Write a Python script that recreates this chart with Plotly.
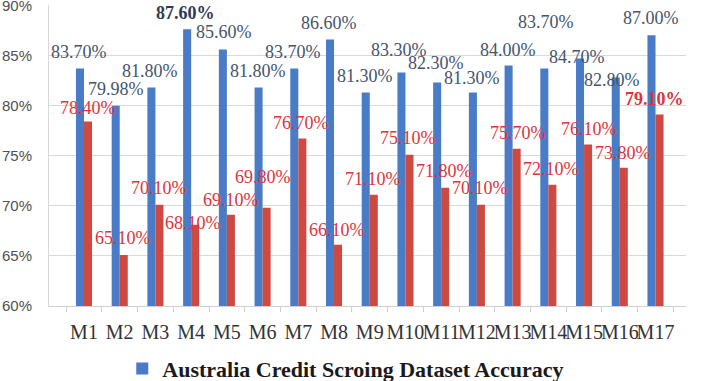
import plotly.graph_objects as go

categories = ["M1", "M2", "M3", "M4", "M5", "M6", "M7", "M8", "M9",
              "M10", "M11", "M12", "M13", "M14", "M15", "M16", "M17"]
accuracy_blue = [83.70, 79.98, 81.80, 87.60, 85.60, 81.80, 83.70, 86.60, 81.30,
                 83.30, 82.30, 81.30, 84.00, 83.70, 84.70, 82.80, 87.00]
accuracy_red = [78.40, 65.10, 70.10, 68.10, 69.10, 69.80, 76.70, 66.10, 71.10,
                75.10, 71.80, 70.10, 75.70, 72.10, 76.10, 73.80, 79.10]
y_ticks = [60, 65, 70, 75, 80, 85, 90]
legend_name = "Australia Credit Scroing Dataset Accuracy"

# label placement offsets (pixels) relative to the category centre / bar top
blue_dx = [-5, -4, -5, -6, -3, -5, -5, -5, -5, -6, -5, -5, -5, -2, -7, -8, -5]
blue_dy = [16, 17, 16, 16, 17, 16, 16, 16, 17, 22, 19, 15, 15, 46, 1, -3, 17]
red_dx = [4, 3, 4, 2, 4, 0, 3, 3, 3, 3, 3, 3, 5, 3, 5, 3, -1]
red_dy = [14, 17, 17, 2, 15, 31, 16, 15, 16, 17, 17, 17, 16, 16, 16, 15, 16]
blue_bold = [False, False, False, True] + [False] * 13
red_bold = [False] * 16 + [True]

BLUE = "#4a7bc6"
RED = "#cc4a42"
SERIF = "Liberation Serif, Times New Roman, serif"
SANS = "Liberation Sans, Arial, sans-serif"

fig = go.Figure()
fig.add_trace(go.Bar(x=categories, y=accuracy_blue, name=legend_name,
                     marker=dict(color=BLUE, line=dict(width=0)), showlegend=True))
fig.add_trace(go.Bar(x=categories, y=accuracy_red, name="",
                     marker=dict(color=RED, line=dict(width=0)), showlegend=False))

annotations = []
for i, c in enumerate(categories):
    v = accuracy_blue[i]
    annotations.append(dict(
        x=c, y=v, xref="x", yref="y", text=f"{v:.2f}%", showarrow=False,
        xanchor="center", yanchor="middle", xshift=blue_dx[i], yshift=blue_dy[i],
        font=dict(family=SERIF, size=18, color="#2e3c52" if blue_bold[i] else "#45546b",
                  weight="bold" if blue_bold[i] else "normal")))
    v = accuracy_red[i]
    annotations.append(dict(
        x=c, y=v, xref="x", yref="y", text=f"{v:.2f}%", showarrow=False,
        xanchor="center", yanchor="middle", xshift=red_dx[i], yshift=red_dy[i],
        font=dict(family=SERIF, size=18, color="#e0333b",
                  weight="bold" if red_bold[i] else "normal")))

fig.update_layout(
    width=702, height=381,
    margin=dict(l=49, r=16, t=5, b=75, autoexpand=False),
    paper_bgcolor="white", plot_bgcolor="white",
    barmode="group", bargap=0.55, bargroupgap=0,
    annotations=annotations,
    showlegend=True,
    legend=dict(orientation="h", x=0.115, xanchor="left", y=-0.208, yanchor="middle",
                font=dict(family=SERIF, size=22, color="#1a1a1a", weight="bold"),
                bgcolor="rgba(0,0,0,0)"),
    xaxis=dict(type="category", showgrid=False, showline=True, linecolor="#d0d0d0",
               ticks="outside", ticklen=5, tickcolor="#d0d0d0", tickson="boundaries",
               tickangle=0, automargin=False,
               tickfont=dict(family=SERIF, size=20, color="#333333"),
               ticklabelstandoff=8),
    yaxis=dict(range=[60, 90.03], tickvals=y_ticks, ticktext=[f"{t}%" for t in y_ticks],
               showgrid=True, gridcolor="#d9d9d9", gridwidth=1, zeroline=False,
               showline=True, linecolor="#d9d9d9", ticklabeloverflow="allow",
               automargin=False,
               tickfont=dict(family=SANS, size=15, color="#505050"),
               ticklabelstandoff=13),
)

fig.write_html("out.html")
